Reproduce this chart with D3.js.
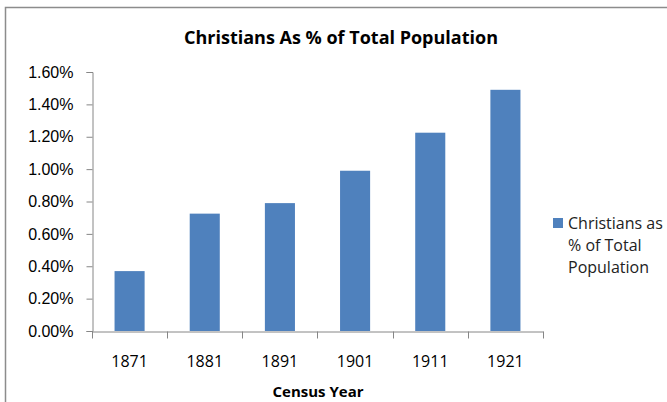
<!DOCTYPE html>
<html>
<head>
<meta charset="utf-8">
<script src="https://cdn.jsdelivr.net/npm/d3@7"></script>
<style>
  body { margin: 0; background: #fff; }
  svg { display: block; }
</style>
</head>
<body>
<svg id="chart"></svg>
<script>
const years = ["1871", "1881", "1891", "1901", "1911", "1921"];
const pctValues = [0.0037, 0.00725, 0.0079, 0.0099, 0.01225, 0.0149];
const yTicks = [0, 0.002, 0.004, 0.006, 0.008, 0.010, 0.012, 0.014, 0.016];
const seriesName = ["Christians as", "% of Total", "Population"];

const width = 667;
const height = 402;
const margin = { top: 72, right: 124, bottom: 71, left: 92 };

const svg = d3.select("#chart")
  .attr("width", width)
  .attr("height", height);

// outer chart border (runs off the right and bottom edges)
svg.append("rect")
  .attr("x", 5.5)
  .attr("y", 7.5)
  .attr("width", width + 10)
  .attr("height", height + 10)
  .attr("fill", "none")
  .attr("stroke", "#8c8c8c")
  .attr("stroke-width", 1.5);

const xScale = d3.scaleBand()
  .domain(years)
  .range([margin.left, width - margin.right])
  .paddingInner(0.6)
  .paddingOuter(0.3);

const yScale = d3.scaleLinear()
  .domain([0, 0.016])
  .range([height - margin.bottom, margin.top]);

const axisColor = "#868686";

// y axis
const yAxis = svg.append("g")
  .attr("transform", `translate(${margin.left + 0.5},0)`)
  .call(d3.axisLeft(yScale)
    .tickValues(yTicks)
    .tickSize(6)
    .tickPadding(13)
    .tickFormat(d3.format(".2%")));
yAxis.select(".domain").attr("stroke", axisColor);
yAxis.selectAll(".tick line").attr("stroke", axisColor);
yAxis.selectAll("text")
  .attr("fill", "#000")
  .style("font-family", "'Liberation Sans', Arial, sans-serif")
  .style("font-size", "16px");

// bars
svg.selectAll("rect.bar")
  .data(pctValues)
  .enter()
  .append("rect")
  .attr("class", "bar")
  .attr("x", (d, i) => xScale(years[i]))
  .attr("width", xScale.bandwidth())
  .attr("y", d => yScale(d))
  .attr("height", d => yScale(0) - yScale(d))
  .attr("fill", "#4f81bd");

// x axis: labels centered in bands, ticks on band boundaries
const xAxis = svg.append("g")
  .attr("transform", `translate(0,${height - margin.bottom + 0.5})`)
  .call(d3.axisBottom(xScale).tickSize(0).tickPadding(24));
xAxis.select(".domain").attr("stroke", axisColor);
xAxis.selectAll("text")
  .attr("fill", "#000")
  .style("font-family", "'Open Sans', sans-serif")
  .style("font-size", "16px");

const boundaries = years.map(y => xScale(y) - xScale.step() * xScale.paddingOuter())
  .concat([width - margin.right]);
xAxis.selectAll("line.btick")
  .data(boundaries)
  .enter()
  .append("line")
  .attr("class", "btick")
  .attr("x1", d => Math.round(d) + 0.5)
  .attr("x2", d => Math.round(d) + 0.5)
  .attr("y1", 0)
  .attr("y2", 7)
  .attr("stroke", axisColor);

// title
svg.append("text")
  .attr("x", 341)
  .attr("y", 44)
  .attr("text-anchor", "middle")
  .style("font-family", "'Open Sans', sans-serif")
  .style("font-weight", "bold")
  .style("font-size", "18px")
  .text("Christians As % of Total Population");

// x axis title
svg.append("text")
  .attr("x", 318)
  .attr("y", 397)
  .attr("text-anchor", "middle")
  .style("font-family", "'Open Sans', sans-serif")
  .style("font-weight", "bold")
  .style("font-size", "15px")
  .text("Census Year");

// legend
const legend = svg.append("g");
legend.append("rect")
  .attr("x", 553)
  .attr("y", 218)
  .attr("width", 10)
  .attr("height", 10)
  .attr("fill", "#4f81bd");
legend.selectAll("text")
  .data(seriesName)
  .enter()
  .append("text")
  .attr("x", 568)
  .attr("y", (d, i) => 229 + i * 22)
  .style("font-family", "'Open Sans', sans-serif")
  .style("font-size", "16px")
  .attr("fill", "#222")
  .text(d => d);
</script>
</body>
</html>
